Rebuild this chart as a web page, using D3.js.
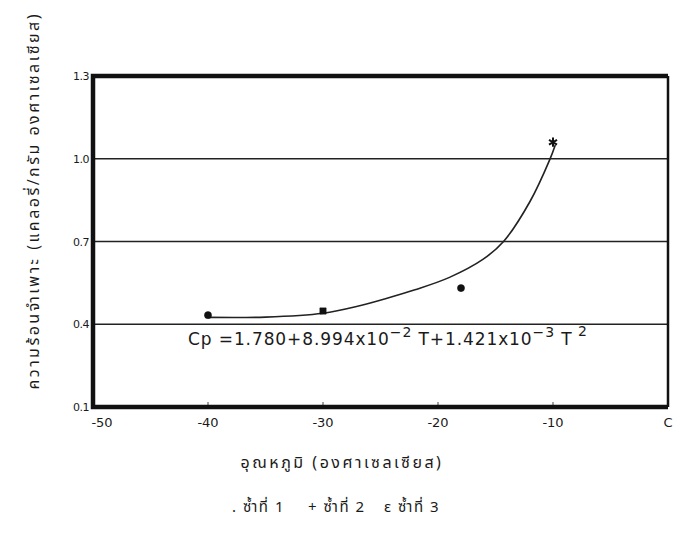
<!DOCTYPE html>
<html>
<head>
<meta charset="utf-8">
<script src="https://cdn.jsdelivr.net/npm/d3@7"></script>
<style>
  body { margin: 0; background: #fff; }
  svg { display: block; }
  text { fill: #1a1a1a; }
</style>
</head>
<body>
<svg id="chart" width="679" height="544"></svg>
<script>
// Specific heat vs temperature, three replicates plus a fitted curve.

let pointT = [-40, -30, -18, -10];
let pointCp = [0.433, 0.448, 0.531, 1.06];
let pointSym = ["circle", "square", "circle", "asterisk"];

// fitted curve as drawn
let curveT = [-40, -35, -30, -27, -24.8, -22, -19, -16.1, -14.3, -12, -10.3, -9.8];
let curveCp = [0.425, 0.426, 0.44, 0.465, 0.49, 0.525, 0.57, 0.635, 0.70, 0.845, 0.995, 1.05];

let xTicks = [-50, -40, -30, -20, -10, 0];
let xTickLabels = ["-50", "-40", "-30", "-20", "-10", "C"];
let yTicks = [0.1, 0.4, 0.7, 1.0, 1.3];
let gridValues = [0.4, 0.7, 1.0];

let yTitle = "ความร้อนจำเพาะ (แคลอรี่/กรัม องศาเซลเซียส)";
let xTitle = "อุณหภูมิ (องศาเซลเซียส)";
let legendItems = [". ซ้ำที่ 1", "+ ซ้ำที่ 2", "ε ซ้ำที่ 3"];

let FONT = "'DejaVu Sans', 'Noto Sans', sans-serif";
let THAI = "'Noto Sans Thai', 'Noto Sans', 'DejaVu Sans', sans-serif";

let svg = d3.select("#chart");
let plot = {left: 93, right: 668, top: 76, bottom: 407};

let x = d3.scaleLinear().domain([-50, 0]).range([plot.left, plot.right]);
let y = d3.scaleLinear().domain([0.1, 1.3]).range([plot.bottom, plot.top]);

// horizontal grid lines
svg.append("g").selectAll("line")
  .data(gridValues)
  .enter().append("line")
    .attr("x1", plot.left).attr("x2", plot.right)
    .attr("y1", d => y(d)).attr("y2", d => y(d))
    .attr("stroke", "#222").attr("stroke-width", 1.6);

// small inner ticks along the bottom
svg.append("g").selectAll("line")
  .data(xTicks.slice(1, -1))
  .enter().append("line")
    .attr("x1", d => x(d)).attr("x2", d => x(d))
    .attr("y1", plot.bottom).attr("y2", plot.bottom - 5)
    .attr("stroke", "#444").attr("stroke-width", 1);

// frame: heavy left/top/bottom, thinner right
svg.append("path")
  .attr("d", "M" + plot.right + "," + plot.top + "H" + plot.left +
             "V" + plot.bottom + "H" + plot.right)
  .attr("fill", "none").attr("stroke", "#111").attr("stroke-width", 4.5);
svg.append("line")
  .attr("x1", plot.right).attr("x2", plot.right)
  .attr("y1", plot.top).attr("y2", plot.bottom)
  .attr("stroke", "#111").attr("stroke-width", 2.5);

// y tick labels
svg.append("g").selectAll("text")
  .data(yTicks)
  .enter().append("text")
    .attr("x", plot.left - 4).attr("y", d => y(d) + 4)
    .attr("text-anchor", "end")
    .style("font-family", FONT).style("font-size", "11px")
    .style("letter-spacing", "-0.5px")
    .text(d => d.toFixed(1));

// x tick labels
svg.append("g").selectAll("text")
  .data(xTicks)
  .enter().append("text")
    .attr("x", (d, i) => x(d) + (i === 0 ? 9 : 0)).attr("y", plot.bottom + 20)
    .attr("text-anchor", "middle")
    .style("font-family", FONT).style("font-size", "13px")
    .text((d, i) => xTickLabels[i]);

// fitted curve
let line = d3.line()
  .x(d => x(d[0])).y(d => y(d[1]))
  .curve(d3.curveCatmullRom.alpha(0.5));
svg.append("path")
  .datum(d3.zip(curveT, curveCp))
  .attr("d", line)
  .attr("fill", "none").attr("stroke", "#222").attr("stroke-width", 1.6);

// measured points
let symbols = {
  circle: d3.symbolCircle,
  square: d3.symbolSquare,
  asterisk: d3.symbolAsterisk
};
svg.append("g").selectAll("path")
  .data(d3.zip(pointT, pointCp, pointSym))
  .enter().append("path")
    .attr("transform", d => "translate(" + x(d[0]) + "," + y(d[1]) + ")")
    .attr("d", d => d3.symbol().type(symbols[d[2]]).size(d[2] === "asterisk" ? 60 : 40)())
    .attr("fill", d => d[2] === "asterisk" ? "none" : "#111")
    .attr("stroke", "#111")
    .attr("stroke-width", d => d[2] === "asterisk" ? 2 : 0.5);

// regression equation
let eq = svg.append("text")
  .attr("x", 188).attr("y", 345)
  .style("font-family", FONT).style("font-size", "17px")
  .style("letter-spacing", "0.9px");
eq.append("tspan").text("Cp =1.780+8.994x10");
eq.append("tspan").attr("dy", -8).style("font-size", "14px").text("−2");
eq.append("tspan").attr("dy", 8).text(" T+1.421x10");
eq.append("tspan").attr("dy", -8).style("font-size", "14px").text("−3");
eq.append("tspan").attr("dy", 8).text(" T");
eq.append("tspan").attr("dy", -9).style("font-size", "14px").text(" 2");

// axis titles
svg.append("text")
  .attr("transform", "translate(39,202) rotate(-90)")
  .attr("text-anchor", "middle")
  .attr("textLength", 375).attr("lengthAdjust", "spacing")
  .style("font-family", THAI).style("font-size", "16px")
  .text(yTitle);

svg.append("text")
  .attr("x", 342).attr("y", 468)
  .attr("text-anchor", "middle")
  .style("font-family", THAI).style("font-size", "16px")
  .style("letter-spacing", "2.5px")
  .text(xTitle);

// legend line
svg.append("g").selectAll("text")
  .data(legendItems)
  .enter().append("text")
    .attr("x", (d, i) => 232 + i * 76).attr("y", 512)
    .style("font-family", THAI).style("font-size", "15px")
    .style("letter-spacing", "1.5px")
    .text(d => d);
</script>
</body>
</html>
